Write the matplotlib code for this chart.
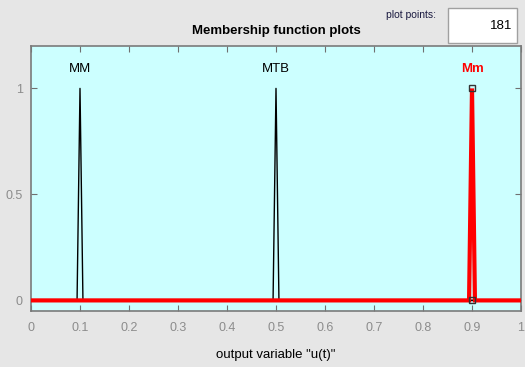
import numpy as np
import matplotlib
matplotlib.use("Agg")
from matplotlib import pyplot as plt
from matplotlib.patches import Rectangle

plt.rcParams['font.family'] = ['Liberation Sans', 'DejaVu Sans']

# membership functions of output variable u(t) (triangles: left, peak, right)
mf_names = ["MM", "MTB", "Mm"]
mf_params = [[0.094, 0.1, 0.106],
             [0.494, 0.5, 0.506],
             [0.894, 0.9, 0.906]]
selected = 2
x_range = [0, 1]
plot_points = 181
xticks = np.round(np.arange(0, 1.01, 0.1), 1)
yticks = [0, 0.5, 1]

fig = plt.figure(figsize=(5.25, 3.67), dpi=100)
fig.patch.set_facecolor('#e6e6e6')
ax = fig.add_axes([31/525, 56/367, 490/525, 265/367])
ax.set_facecolor('#ccffff')

for i, (name, p) in enumerate(zip(mf_names, mf_params)):
    xs = [x_range[0], p[0], p[1], p[2], x_range[1]]
    ys = [0, 0, 1, 0, 0]
    if i == selected:
        ax.plot(xs, ys, color='red', lw=3.0, zorder=3, solid_joinstyle='miter')
        ax.plot([p[1], p[1]], [1, 0], ls='none', marker='s', ms=5,
                mfc='none', mec='#333333', mew=1, zorder=4)
        ax.text(p[1], 1.09, name, color='red', fontweight='bold',
                ha='center', va='center', fontsize=9.5)
    else:
        ax.plot(xs, ys, color='black', lw=1.0, zorder=2)
        ax.text(p[1], 1.09, name, color='black', ha='center', va='center', fontsize=9.5)

ax.set_xlim(x_range)
ax.set_ylim(-0.05, 1.2)
ax.set_xticks(xticks)
ax.set_xticklabels([('%g' % t) for t in xticks])
ax.set_yticks(yticks)
ax.set_yticklabels(['0', '0.5', '1'])
ax.tick_params(direction='in', top=True, right=True, length=4, width=0.8,
               color='#707070', labelcolor='#8c8c8c', labelsize=9)
ax.tick_params(axis='x', pad=8)
ax.tick_params(axis='y', pad=6)
for s in ax.spines.values():
    s.set_color('#7a7a7a')
    s.set_linewidth(1.2)

fig.text(276/525, 1 - 31/367, "Membership function plots", ha='center', va='center',
         fontweight='bold', fontsize=9.5)
fig.text(276/525, 1 - 355/367, 'output variable "u(t)"', ha='center', va='center',
         fontsize=9.5)

# plot points box
fig.text(411/525, 1 - 15/367, "plot points:", ha='center', va='center',
         fontsize=7.5, color='#1a1a40')
fig.patches.append(Rectangle((448/525, 1 - 43/367), 69/525, 35/367,
                             transform=fig.transFigure, facecolor='white',
                             edgecolor='#a0a0a0', lw=1))
fig.text(512/525, 1 - 26/367, str(plot_points), ha='right', va='center', fontsize=9.5)

fig.savefig('out.png', dpi=100, facecolor=fig.get_facecolor())
